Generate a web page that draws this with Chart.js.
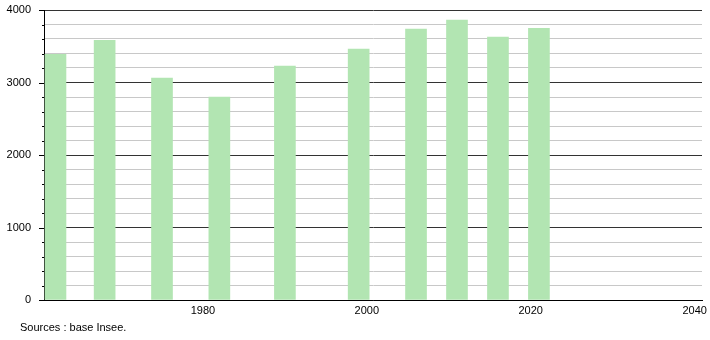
<!DOCTYPE html>
<html>
<head>
<meta charset="utf-8">
<script src="https://cdn.jsdelivr.net/npm/chart.js@4.4.1/dist/chart.umd.min.js"></script>
<style>
  html, body { margin: 0; padding: 0; background: #fff; }
  #wrap { position: relative; width: 710px; height: 340px; }
  #source { position: absolute; left: 20px; top: 321px; font: 11px "Liberation Sans", Arial, sans-serif; line-height: 13px; color: #000; }
</style>
</head>
<body>
<div id="wrap">
  <canvas id="c"></canvas>
  <div id="source">Sources : base Insee.</div>
</div>
<script>
// Census years and population
const years = [1962, 1968, 1975, 1982, 1990, 1999, 2006, 2011, 2016, 2021];
const population = [3390, 3580, 3062, 2800, 3228, 3462, 3738, 3862, 3628, 3747];
// Axis ticks
const xTicks = [1980, 2000, 2020, 2040];
const yTicks = [0, 200, 400, 600, 800, 1000, 1200, 1400, 1600, 1800, 2000, 2200, 2400, 2600, 2800, 3000, 3200, 3400, 3600, 3800, 4000];
const yMajorStep = 1000;

const FONT = { family: '"Liberation Sans", Arial, sans-serif', size: 11 };

const yTickMarks = {
  id: 'yTickMarks',
  afterDraw(chart) {
    const s = chart.scales.y, ctx = chart.ctx;
    ctx.save();
    ctx.strokeStyle = '#000';
    ctx.lineWidth = 1;
    s.ticks.forEach(t => {
      const y = Math.round(s.getPixelForValue(t.value)) + 0.5;
      const len = t.value % yMajorStep === 0 ? 5 : 2;
      ctx.beginPath();
      ctx.moveTo(s.right - len, y);
      ctx.lineTo(s.right, y);
      ctx.stroke();
    });
    ctx.restore();
  }
};

new Chart(document.getElementById('c'), {
  type: 'bar',
  data: {
    datasets: [{
      data: years.map((y, i) => ({ x: y, y: population[i] })),
      backgroundColor: 'rgb(178,229,178)',
      borderWidth: 0,
      barThickness: 21
    }]
  },
  options: {
    responsive: true,
    maintainAspectRatio: false,
    animation: false,
    layout: { padding: { top: 0, right: 8, left: 0, bottom: 0 } },
    plugins: { legend: { display: false }, tooltip: { enabled: false } },
    scales: {
      x: {
        type: 'linear',
        offset: false,
        min: 1960.6,
        max: 2040.9,
        afterBuildTicks: s => { s.ticks = xTicks.map(v => ({ value: v })); },
        afterFit: s => { s.height = 40; s.paddingLeft = 0; s.paddingRight = 0; },
        grid: { display: false, drawTicks: false, offset: false },
        border: { display: true, color: '#000', width: 1 },
        ticks: { font: FONT, color: '#000', padding: 4, maxRotation: 0, autoSkip: false, callback: v => String(v) }
      },
      y: {
        min: 0,
        max: 4000,
        afterBuildTicks: s => { s.ticks = yTicks.map(v => ({ value: v })); },
        afterFit: s => { s.width = 44; s.paddingTop = 10; s.paddingBottom = 0; },
        grid: {
          drawTicks: false,
          color: c => (c.tick && c.tick.value % yMajorStep === 0) ? '#333' : '#c8c8c8',
          lineWidth: 1
        },
        border: { display: true, color: '#000', width: 1 },
        ticks: {
          font: FONT, color: '#000', padding: 13, autoSkip: false,
          callback: v => (v % yMajorStep === 0 ? String(v) : '')
        }
      }
    }
  },
  plugins: [yTickMarks]
});
</script>
</body>
</html>
